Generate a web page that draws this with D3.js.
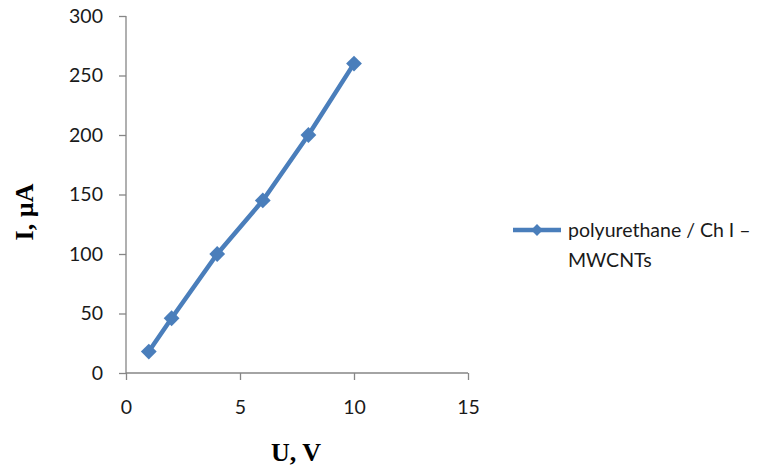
<!DOCTYPE html>
<html>
<head>
<meta charset="utf-8">
<script src="https://cdn.jsdelivr.net/npm/d3@7"></script>
<style>
  html, body { margin: 0; padding: 0; background: #fff; }
  svg { display: block; }
</style>
</head>
<body>
<svg id="chart" width="768" height="472"></svg>
<script>
const voltage = [1, 2, 4, 6, 8, 10];
const current = [18, 46, 100, 145, 200, 260];
const xTicks = [0, 5, 10, 15];
const yTicks = [0, 50, 100, 150, 200, 250, 300];
const seriesName = ["polyurethane / Ch I \u2013", "MWCNTs"];
const xTitle = "U, V";
const yTitle = "I, \u00b5A";

(function () {
const svg = d3.select("#chart");
const pL = 126, pR = 468, pT = 16, pB = 373;
const x = d3.scaleLinear().domain([0, 15]).range([pL, pR]);
const y = d3.scaleLinear().domain([0, 300]).range([pB, pT]);
const axisColor = "#868686";
const lineColor = "#4a7ebb";
const tickFont = "Lato, 'Liberation Sans', sans-serif";

const yAxis = svg.append("g")
  .attr("transform", `translate(${pL},0)`)
  .call(d3.axisLeft(y).tickValues(yTicks).tickSize(7).tickPadding(16).tickFormat(d3.format("d")));
const xAxis = svg.append("g")
  .attr("transform", `translate(0,${pB})`)
  .call(d3.axisBottom(x).tickValues(xTicks).tickSize(7).tickPadding(20).tickFormat(d3.format("d")));

[yAxis, xAxis].forEach(g => {
  g.select(".domain").attr("stroke", axisColor).attr("stroke-width", 1.3);
  g.selectAll(".tick line").attr("stroke", axisColor).attr("stroke-width", 1.3);
  g.selectAll(".tick text").attr("fill", "#1a1a1a").style("font-family", tickFont).style("font-size", "19.5px");
});
yAxis.select(".domain").attr("d", `M0,${pT}V${pB}`);
xAxis.select(".domain").attr("d", `M${pL},0H${pR}`);

const line = d3.line().x((d, i) => x(voltage[i])).y(d => y(d));
svg.append("path")
  .datum(current)
  .attr("fill", "none")
  .attr("stroke", lineColor)
  .attr("stroke-width", 4.5)
  .attr("stroke-linejoin", "round")
  .attr("d", line);

svg.append("g").selectAll("path")
  .data(current)
  .join("path")
  .attr("transform", (d, i) => `translate(${x(voltage[i])},${y(d)}) rotate(45)`)
  .attr("d", d3.symbol().type(d3.symbolSquare).size(125))
  .attr("fill", lineColor);

svg.append("text")
  .attr("x", 296).attr("y", 461)
  .attr("text-anchor", "middle")
  .style("font-family", "'Liberation Serif', 'Times New Roman', serif")
  .style("font-weight", "bold")
  .style("font-size", "26px")
  .text(xTitle);

svg.append("text")
  .attr("transform", "translate(33,212) rotate(-90)")
  .attr("text-anchor", "middle")
  .style("font-family", "'Liberation Serif', 'Times New Roman', serif")
  .style("font-weight", "bold")
  .style("font-size", "26px")
  .text(yTitle);

const lg = svg.append("g");
lg.append("line")
  .attr("x1", 513).attr("x2", 561).attr("y1", 230).attr("y2", 230)
  .attr("stroke", lineColor).attr("stroke-width", 4.5);
lg.append("path")
  .attr("transform", "translate(537,230) rotate(45)")
  .attr("d", d3.symbol().type(d3.symbolSquare).size(70))
  .attr("fill", lineColor);
const lt = lg.append("text")
  .attr("x", 568).attr("y", 237)
  .style("font-family", tickFont)
  .style("font-size", "19.5px")
  .attr("fill", "#1a1a1a");
lt.selectAll("tspan").data(seriesName).join("tspan")
  .attr("x", 568)
  .attr("dy", (d, i) => i === 0 ? 0 : 30)
  .text(d => d);
})();
</script>
</body>
</html>
